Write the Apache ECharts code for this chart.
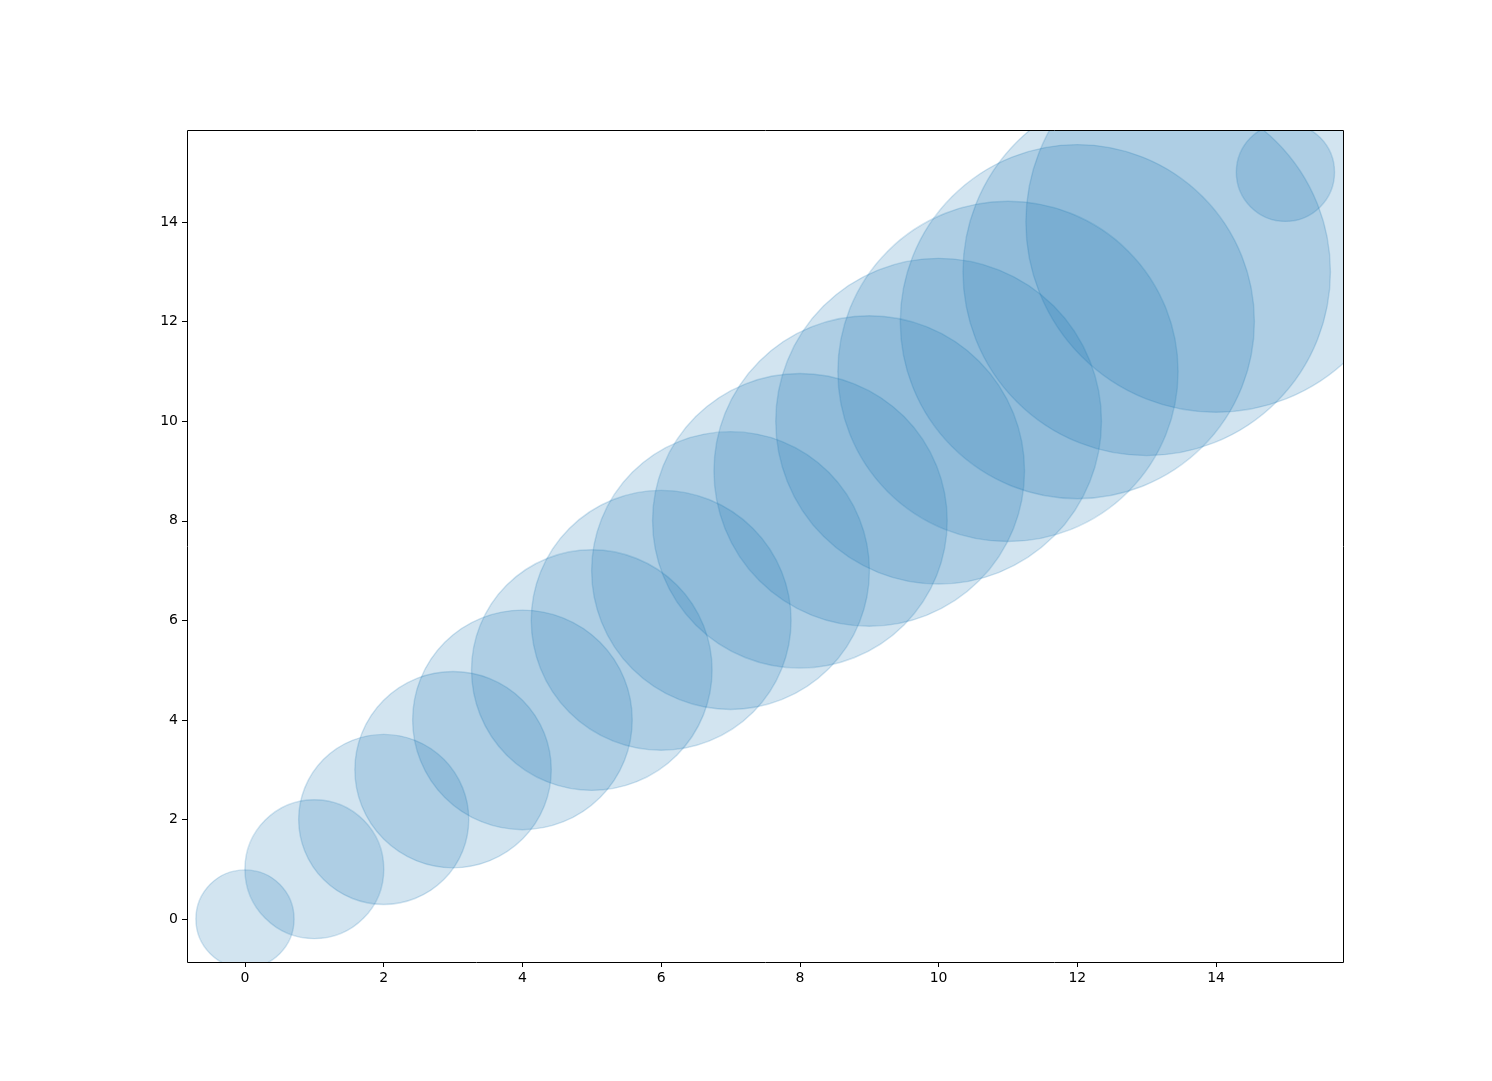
<!DOCTYPE html>
<html>
<head>
<meta charset="utf-8">
<script src="https://cdn.jsdelivr.net/npm/echarts@6/dist/echarts.min.js"></script>
<style>html,body{margin:0;padding:0;background:#fff}#c{width:1492px;height:1081px}</style>
</head>
<body>
<div id="c"></div>
<script>
// data
const xValues = [0,1,2,3,4,5,6,7,8,9,10,11,12,13,14,15];
const yValues = [0,1,2,3,4,5,6,7,8,9,10,11,12,13,14,15];
// marker areas (points^2, matplotlib "s")
const sizes = [5000,10000,15000,20000,25000,30000,35000,40000,45000,50000,55000,60000,65000,70000,75000,5000];
const xTicks = [0,2,4,6,8,10,12,14];
const yTicks = [0,2,4,6,8,10,12,14];

const data = xValues.map((x,i)=>[x, yValues[i], sizes[i]]);
const G = {l:187, t:130, r:1343, b:962, W:1492, H:1081};
const chart = echarts.init(document.getElementById('c'), null, {renderer:'canvas'});
const font = {color:'#000', fontSize:14, fontFamily:'DejaVu Sans'};
chart.setOption({
  animation:false,
  backgroundColor:'#fff',
  grid:{left:G.l, top:G.t, width:G.r-G.l, height:G.b-G.t, show:false},
  xAxis:{type:'value', min:-0.836, max:15.83, z:10,
    splitLine:{show:false}, axisLine:{show:false, onZero:false},
    axisTick:{show:true, inside:false, length:5, lineStyle:{color:'#000',width:1}, customValues:xTicks},
    axisLabel:Object.assign({margin:9, customValues:xTicks}, font)},
  yAxis:{type:'value', min:-0.864, max:15.85, z:10,
    splitLine:{show:false}, axisLine:{show:false, onZero:false},
    axisTick:{show:true, inside:false, length:5, lineStyle:{color:'#000',width:1}, customValues:yTicks},
    axisLabel:Object.assign({margin:9, customValues:yTicks}, font)},
  graphic:[
    {type:'rect', z:5, shape:{x:0,y:0,width:G.W,height:G.t}, style:{fill:'#fff'}},
    {type:'rect', z:5, shape:{x:0,y:G.b,width:G.W,height:G.H-G.b}, style:{fill:'#fff'}},
    {type:'rect', z:5, shape:{x:0,y:0,width:G.l,height:G.H}, style:{fill:'#fff'}},
    {type:'rect', z:5, shape:{x:G.r,y:0,width:G.W-G.r,height:G.H}, style:{fill:'#fff'}},
    {type:'rect', z:20, shape:{x:G.l+0.5,y:G.t+0.5,width:G.r-G.l,height:G.b-G.t}, style:{fill:null, stroke:'#000', lineWidth:1}}
  ],
  series:[{
    type:'scatter', z:2, clip:false,
    data:data,
    symbol:'circle',
    symbolSize:(v)=>Math.sqrt(v[2])/72*100,
    itemStyle:{color:'rgba(31,119,180,0.2)', borderColor:'rgba(31,119,180,0.2)', borderWidth:1.4, opacity:1},
    emphasis:{disabled:true}
  }]
});
</script>
</body>
</html>
